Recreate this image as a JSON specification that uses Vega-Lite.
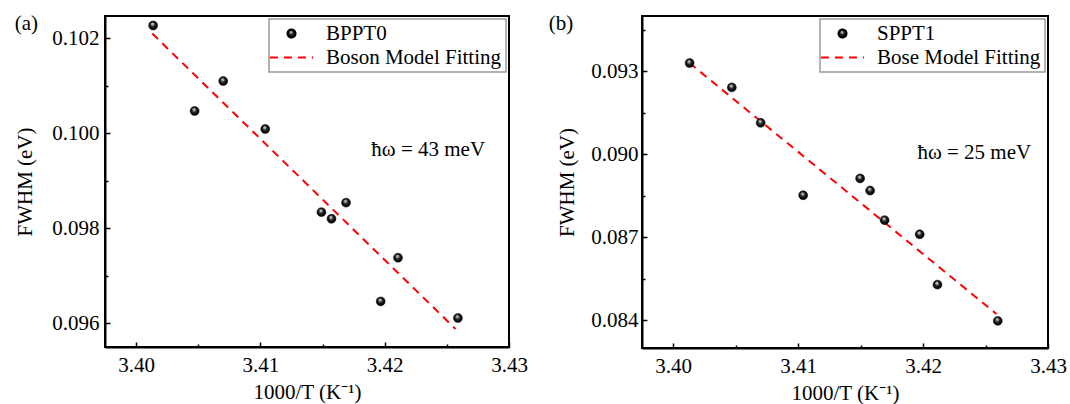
{
  "$schema": "https://vega.github.io/schema/vega-lite/v6.json",
  "background": "white",
  "padding": {"left": 13, "top": 12, "right": 0, "bottom": 0},
  "config": {
    "font": "Liberation Serif",
    "view": {"stroke": "black", "strokeWidth": 2},
    "axis": {
      "labelFont": "Liberation Serif", "labelFontSize": 21, "labelColor": "black",
      "titleFont": "Liberation Serif", "titleFontSize": 21, "titleFontWeight": "normal", "titleColor": "black",
      "domainColor": "black", "domainWidth": 2, "tickColor": "black", "tickWidth": 1.5,
      "grid": false
    },
    "legend": {
      "labelFont": "Liberation Serif", "labelFontSize": 21, "labelColor": "black", "labelLimit": 400,
      "strokeColor": "#999", "strokeWidth": 1.5, "fillColor": "white",
      "padding": 4, "rowPadding": 2, "symbolOffset": 8, "labelOffset": 24, "symbolStrokeWidth": 2, "symbolSize": 64,
      "orient": "top-right", "offset": 3, "title": null
    },
    "title": {"font": "Liberation Serif", "fontSize": 21, "fontWeight": "normal", "color": "black"}
  },
  "hconcat": [
    {
      "width": 404, "height": 331,
      "title": {"text": "(a)", "anchor": "start", "frame": "bounds", "offset": -18},
      "data": {"values": [
        {"x": 3.40137, "y": 0.10227, "series": "BPPT0"},
        {"x": 3.40471, "y": 0.10047, "series": "BPPT0"},
        {"x": 3.40701, "y": 0.10110, "series": "BPPT0"},
        {"x": 3.41039, "y": 0.10009, "series": "BPPT0"},
        {"x": 3.41491, "y": 0.09834, "series": "BPPT0"},
        {"x": 3.41572, "y": 0.09820, "series": "BPPT0"},
        {"x": 3.41689, "y": 0.09854, "series": "BPPT0"},
        {"x": 3.41968, "y": 0.09646, "series": "BPPT0"},
        {"x": 3.42107, "y": 0.09738, "series": "BPPT0"},
        {"x": 3.42589, "y": 0.09611, "series": "BPPT0"},
        {"x": 3.4013, "y": 0.10210, "series": "Boson Model Fitting"},
        {"x": 3.4257, "y": 0.09588, "series": "Boson Model Fitting"}
      ]},
      "encoding": {
        "x": {"field": "x", "type": "quantitative",
          "scale": {"domain": [3.3975, 3.43], "nice": false, "zero": false},
          "axis": {"title": "1000/T (K⁻¹)", "values": [3.40, 3.405, 3.41, 3.415, 3.42, 3.425, 3.43],
            "labelExpr": "abs(datum.value*100 - round(datum.value*100)) > 0.1 ? '' : format(datum.value, '.2f')",
            "tickSize": {"condition": {"test": "abs(datum.value*100 - round(datum.value*100)) > 0.1", "value": -3}, "value": -5},
            "labelPadding": 12, "titlePadding": 6, "labelFlush": false}},
        "y": {"field": "y", "type": "quantitative",
          "scale": {"domain": [0.0955, 0.10247], "nice": false, "zero": false},
          "axis": {"title": "FWHM (eV)", "values": [0.096, 0.097, 0.098, 0.099, 0.100, 0.101, 0.102],
            "labelExpr": "round(datum.value*1000) % 2 == 1 ? '' : format(datum.value, '.3f')",
            "tickSize": {"condition": {"test": "round(datum.value*1000) % 2 == 1", "value": -3}, "value": -5},
            "labelPadding": 11, "titlePadding": 16}}
      },
      "layer": [
        {
          "transform": [{"filter": "datum.series == 'Boson Model Fitting'"}],
          "mark": {"type": "line", "strokeWidth": 2},
          "encoding": {
            "stroke": {"field": "series", "type": "nominal",
              "scale": {"domain": ["BPPT0", "Boson Model Fitting"], "range": ["black", "red"]}},
            "strokeDash": {"field": "series", "type": "nominal",
              "scale": {"domain": ["BPPT0", "Boson Model Fitting"], "range": [[1, 0], [8, 6]]}}
          }
        },
        {
          "transform": [{"filter": "datum.series == 'BPPT0'"}],
          "mark": {"type": "point", "filled": true, "opacity": 1, "strokeWidth": 0.5, "size": 80,
            "fill": {"gradient": "radial", "x1": 0.42, "y1": 0.3, "r1": 0, "x2": 0.5, "y2": 0.5, "r2": 0.55,
              "stops": [{"offset": 0, "color": "#ffffff"}, {"offset": 0.22, "color": "#999999"}, {"offset": 0.5, "color": "#1a1a1a"}, {"offset": 1, "color": "#000000"}]}},
          "encoding": {
            "stroke": {"field": "series", "type": "nominal",
              "scale": {"domain": ["BPPT0", "Boson Model Fitting"], "range": ["black", "red"]}},
            "shape": {"field": "series", "type": "nominal",
              "scale": {"domain": ["BPPT0", "Boson Model Fitting"], "range": ["circle", "M-5.4,0L5.4,0"]}}
          }
        },
        {
          "transform": [{"filter": "datum.series == 'BPPT0' && datum.x < 3.402"}],
          "mark": {"type": "text", "fontSize": 21, "font": "Liberation Serif", "color": "black"},
          "encoding": {"x": {"datum": 3.4235}, "y": {"datum": 0.09964}, "text": {"value": "ħω = 43 meV"}}
        }
      ]
    },
    {
      "width": 406, "height": 332,
      "title": {"text": "(b)", "anchor": "start", "frame": "bounds", "offset": -18, "dx": -8},
      "data": {"values": [
        {"x": 3.40131, "y": 0.09330, "series": "SPPT1"},
        {"x": 3.40469, "y": 0.09242, "series": "SPPT1"},
        {"x": 3.40700, "y": 0.09114, "series": "SPPT1"},
        {"x": 3.41040, "y": 0.08852, "series": "SPPT1"},
        {"x": 3.41496, "y": 0.08913, "series": "SPPT1"},
        {"x": 3.41576, "y": 0.08869, "series": "SPPT1"},
        {"x": 3.41692, "y": 0.08762, "series": "SPPT1"},
        {"x": 3.41973, "y": 0.08711, "series": "SPPT1"},
        {"x": 3.42115, "y": 0.08529, "series": "SPPT1"},
        {"x": 3.42598, "y": 0.08398, "series": "SPPT1"},
        {"x": 3.4013, "y": 0.09330, "series": "Bose Model Fitting"},
        {"x": 3.42587, "y": 0.08423, "series": "Bose Model Fitting"}
      ]},
      "encoding": {
        "x": {"field": "x", "type": "quantitative",
          "scale": {"domain": [3.3975, 3.43], "nice": false, "zero": false},
          "axis": {"title": "1000/T (K⁻¹)", "values": [3.40, 3.405, 3.41, 3.415, 3.42, 3.425, 3.43],
            "labelExpr": "abs(datum.value*100 - round(datum.value*100)) > 0.1 ? '' : format(datum.value, '.2f')",
            "tickSize": {"condition": {"test": "abs(datum.value*100 - round(datum.value*100)) > 0.1", "value": -3}, "value": -5},
            "labelPadding": 12, "titlePadding": 6, "labelFlush": false}},
        "y": {"field": "y", "type": "quantitative",
          "scale": {"domain": [0.083, 0.095], "nice": false, "zero": false},
          "axis": {"title": "FWHM (eV)", "values": [0.084, 0.0855, 0.087, 0.0885, 0.090, 0.0915, 0.093, 0.0945],
            "labelExpr": "abs(datum.value*1000 - round(datum.value*1000)) > 0.1 ? '' : format(datum.value, '.3f')",
            "tickSize": {"condition": {"test": "abs(datum.value*1000 - round(datum.value*1000)) > 0.1", "value": -3}, "value": -5},
            "labelPadding": 9, "titlePadding": 13}}
      },
      "layer": [
        {
          "transform": [{"filter": "datum.series == 'Bose Model Fitting'"}],
          "mark": {"type": "line", "strokeWidth": 2},
          "encoding": {
            "stroke": {"field": "series", "type": "nominal",
              "scale": {"domain": ["SPPT1", "Bose Model Fitting"], "range": ["black", "red"]}},
            "strokeDash": {"field": "series", "type": "nominal",
              "scale": {"domain": ["SPPT1", "Bose Model Fitting"], "range": [[1, 0], [8, 6]]}}
          }
        },
        {
          "transform": [{"filter": "datum.series == 'SPPT1'"}],
          "mark": {"type": "point", "filled": true, "opacity": 1, "strokeWidth": 0.5, "size": 80,
            "fill": {"gradient": "radial", "x1": 0.42, "y1": 0.3, "r1": 0, "x2": 0.5, "y2": 0.5, "r2": 0.55,
              "stops": [{"offset": 0, "color": "#ffffff"}, {"offset": 0.22, "color": "#999999"}, {"offset": 0.5, "color": "#1a1a1a"}, {"offset": 1, "color": "#000000"}]}},
          "encoding": {
            "stroke": {"field": "series", "type": "nominal",
              "scale": {"domain": ["SPPT1", "Bose Model Fitting"], "range": ["black", "red"]}},
            "shape": {"field": "series", "type": "nominal",
              "scale": {"domain": ["SPPT1", "Bose Model Fitting"], "range": ["circle", "M-5.4,0L5.4,0"]}}
          }
        },
        {
          "transform": [{"filter": "datum.series == 'SPPT1' && datum.x < 3.402"}],
          "mark": {"type": "text", "fontSize": 21, "font": "Liberation Serif", "color": "black"},
          "encoding": {"x": {"datum": 3.4241}, "y": {"datum": 0.09004}, "text": {"value": "ħω = 25 meV"}}
        }
      ]
    }
  ],
  "resolve": {"scale": {"stroke": "independent", "shape": "independent", "strokeDash": "independent"}, "legend": {"stroke": "independent", "shape": "independent", "strokeDash": "independent"}},
  "spacing": 18
}
